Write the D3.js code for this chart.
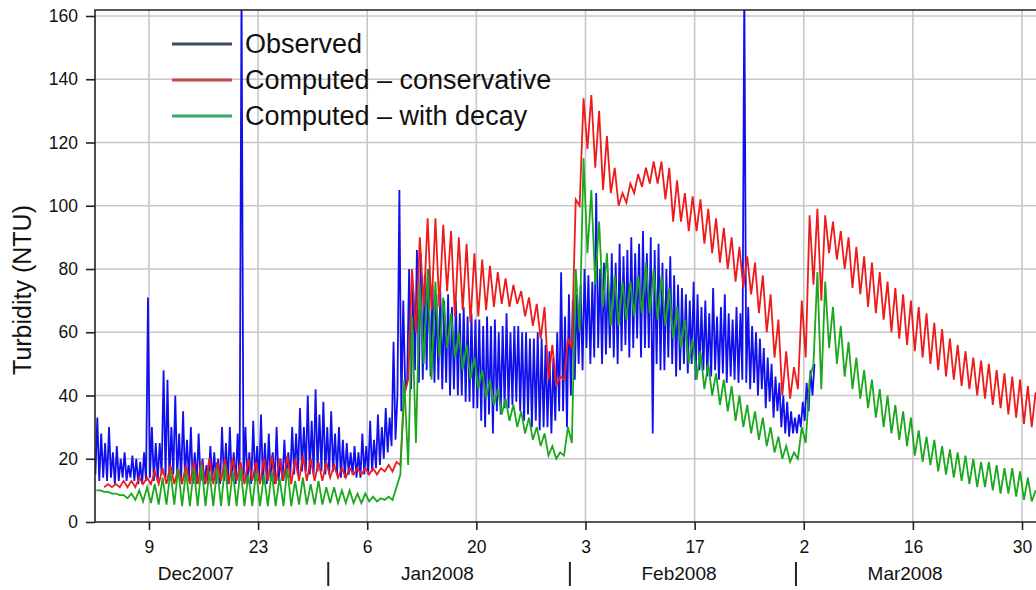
<!DOCTYPE html>
<meta charset="utf-8">
<style>
body { margin: 0; background: #fff; }
text { font-family: "Liberation Sans", Arial, sans-serif; fill: #111; }
</style>
<body>
<script src="https://cdn.jsdelivr.net/npm/d3@7"></script>
<script>
// turbidity series
// observed: one value every 6 hours from 2 Dec 2007
var observed = [
  15,33,13,28, 14,25,13,30, 14,22,12,24, 13,20,14,22, 13,18,14,21,
  13,20,12,19, 12,22,13,71, 14,30,13,25, 13,25,15,48, 14,45,13,30,
  15,40,14,28, 13,35,14,26, 13,30,12,22, 12,28,13,20, 12,18,12,24,
  13,22,12,20, 12,30,13,25, 12,30,13,22, 12,28,13,170, 13,30,12,22,
  12,32,13,24, 13,34,12,25, 12,28,13,22, 12,30,13,20, 13,26,14,22,
  14,30,15,28, 15,36,16,30, 16,40,15,32, 15,42,16,34, 16,38,15,30,
  15,35,16,28, 15,30,14,26, 14,25,15,22, 15,24,14,22, 14,28,15,24,
  15,32,16,26, 17,34,18,30, 20,36,22,33, 24,57,26,40, 105,35,70,42,
  45,80,42,75, 48,86,44,85, 45,78,48,80, 46,75,44,72, 45,73,42,70,
  44,72,40,68, 42,70,40,66, 40,68,38,65, 38,66,36,64, 36,64,32,62,
  30,65,34,62, 28,64,35,60, 34,62,36,66, 36,60,37,62, 38,62,35,60,
  32,60,34,58, 30,58,32,60, 29,58,30,56, 30,54,28,52, 32,60,35,79,
  35,65,30,72, 40,70,45,72, 50,75,48,80, 55,78,50,76, 52,104,55,80,
  50,82,53,78, 55,85,52,82, 50,88,54,84, 56,86,52,90, 55,85,58,88,
  52,92,55,85, 55,90,28,86, 50,88,48,82, 48,80,52,84, 50,78,46,75,
  48,74,50,72, 47,70,50,76, 45,72,48,68, 48,70,46,66, 46,74,48,65,
  45,68,47,72, 44,66,46,64, 45,68,44,66, 45,170,44,68, 42,62,44,60,
  40,58,42,55, 36,52,38,50, 33,46,35,44, 30,40,28,38, 27,35,28,33,
  28,34,30,38, 32,44,35,48, 40,50
];
// computed, conservative: one value every 12 hours from 3 Dec 2007
var conservative = [
  11,12, 11,12, 11,13, 11,13, 11,14, 12,14, 12,16, 12,17, 12,18, 12,17,
  12,18, 12,19, 12,19, 12,20, 12,19, 13,20, 12,20, 13,19, 12,20, 13,19,
  12,20, 13,21, 12,20, 13,21, 12,20, 13,21, 13,20, 13,19, 13,19, 14,18,
  14,17, 14,17, 15,17, 15,17, 15,17, 15,17, 16,18, 16,19, 18,40, 45,80,
  60,90, 68,96, 67,96, 68,94, 73,92, 65,90, 67,88, 63,85, 65,83, 67,81,
  68,79, 69,77, 68,75, 69,73, 65,71, 62,69, 58,68, 45,56, 43,46, 45,58,
  55,102, 100,134, 118,135, 112,130, 105,122, 104,112, 100,104, 101,107, 104,110, 106,112,
  107,114, 107,114, 102,112, 95,108, 95,104, 92,103, 92,102, 88,99, 85,96, 82,93,
  80,90, 76,87, 74,84, 72,82, 66,78, 60,72, 52,64, 40,54, 39,49, 42,70,
  52,97, 75,99, 70,97, 85,95, 83,92, 80,90, 74,87, 72,84, 68,82, 66,79,
  64,76, 60,74, 58,72, 56,70, 54,68, 52,66, 50,63, 48,61, 46,58, 45,56,
  43,54, 42,52, 40,51, 39,50, 37,48, 36,47, 34,46, 33,45, 31,43, 30,41
];
// computed, with decay: one value every 12 hours from 2 Dec 2007
var withDecay = [
  10,10, 9.5,9.5, 9,9, 8.5,8.5, 7.5,9, 7,10, 6.5,11, 6,12, 5.5,14, 5.5,16,
  5.5,17, 5,16, 5,17, 5,18, 5,16, 5,17, 5,18, 5,16, 5,17, 5,15,
  5,16, 5,15, 5,16, 5,14, 5,17, 5,13, 5.5,14, 5.5,12, 5.5,13, 5.5,11,
  6,11, 6,10, 6,10, 6,9, 6,9, 6.5,8, 6.5,7.5, 7,8, 7,11, 15,45,
  18,65, 25,75, 50,80, 45,76, 52,71, 55,66, 52,60, 48,56, 45,52, 42,48,
  39,45, 37,42, 34,39, 32,37, 30,35, 28,33, 26,30, 24,28, 21,24, 20,22,
  21,30, 25,80, 60,115, 85,105, 75,95, 68,85, 62,78, 62,76, 64,76, 65,78,
  66,82, 66,80, 64,78, 62,74, 58,68, 55,64, 50,58, 45,54, 42,50, 40,47,
  37,45, 35,43, 32,40, 30,37, 28,35, 26,33, 24,30, 22,27, 20,24, 19,22,
  20,30, 25,45, 50,79, 42,76, 55,68, 50,62, 46,57, 42,52, 39,48, 36,45,
  33,42, 30,40, 28,37, 26,35, 24,33, 21,29, 19,27, 18,26, 16,24, 15,23,
  14,22, 13,21, 12,20, 11,19, 11,19, 10,18, 9,17, 9,17, 8,16, 7,14,
  6.5,10
];

var yTicks = [0, 20, 40, 60, 80, 100, 120, 140, 160];
var dayTicks = ["2007-12-09", "2007-12-23", "2008-01-06", "2008-01-20", "2008-02-03",
                "2008-02-17", "2008-03-02", "2008-03-16", "2008-03-30"];
var monthStarts = ["2008-01-01", "2008-02-01", "2008-03-01"];
var monthLabels = [["2007-12-15", "Dec2007"], ["2008-01-15", "Jan2008"],
                   ["2008-02-15", "Feb2008"], ["2008-03-15", "Mar2008"]];
var seriesNames = ["Observed", "Computed \u2013 conservative", "Computed \u2013 with decay"];

var width = 1036, height = 590;
var plotLeft = 95, plotTop = 10, plotBottom = 522;

var parse = d3.utcParse("%Y-%m-%d");
var obsStart = parse("2007-12-02"),
    consStart = parse("2007-12-03"),
    decayStart = parse("2007-12-02");

var x = d3.scaleUtc()
    .domain([parse("2007-12-02"), parse("2008-04-01")])
    .range([94.4, 1037.6]);

var y = d3.scaleLinear()
    .domain([0, 160])
    .range([522, 16]);

var svg = d3.select("body").append("svg")
    .attr("width", width)
    .attr("height", height);

svg.append("defs").append("clipPath").attr("id", "plot")
  .append("rect")
    .attr("x", plotLeft).attr("y", plotTop)
    .attr("width", width - plotLeft).attr("height", plotBottom - plotTop);

// grid
svg.append("g").selectAll("line")
    .data(yTicks.slice(1))
  .enter().append("line")
    .attr("x1", plotLeft).attr("x2", width)
    .attr("y1", function(d) { return y(d); })
    .attr("y2", function(d) { return y(d); })
    .attr("stroke", "#c8c8c8").attr("stroke-width", 1.6);

svg.append("g").selectAll("line")
    .data(dayTicks)
  .enter().append("line")
    .attr("x1", function(d) { return x(parse(d)); })
    .attr("x2", function(d) { return x(parse(d)); })
    .attr("y1", plotTop).attr("y2", plotBottom)
    .attr("stroke", "#c8c8c8").attr("stroke-width", 1.6);

// series
function points(values, start, stepHours) {
  return values.map(function(v, i) {
    return [d3.utcHour.offset(start, stepHours * i + stepHours / 2), v];
  });
}

var line = d3.line()
    .x(function(d) { return x(d[0]); })
    .y(function(d) { return y(d[1]); });

var plot = svg.append("g").attr("clip-path", "url(#plot)");

plot.append("path")
    .datum(points(observed, obsStart, 6))
    .attr("d", line)
    .attr("fill", "none").attr("stroke", "#1010ee").attr("stroke-width", 1.8);

plot.append("path")
    .datum(points(conservative, consStart, 12))
    .attr("d", line)
    .attr("fill", "none").attr("stroke", "#ee1b1b").attr("stroke-width", 1.8);

plot.append("path")
    .datum(points(withDecay, decayStart, 12))
    .attr("d", line)
    .attr("fill", "none").attr("stroke", "#1ca81c").attr("stroke-width", 1.8);

// frame
svg.append("path")
    .attr("d", "M" + width + "," + plotTop + "H" + plotLeft + "V" + plotBottom + "H" + width)
    .attr("fill", "none").attr("stroke", "#222").attr("stroke-width", 1.6);

// axes
var yAxis = svg.append("g")
    .attr("transform", "translate(" + plotLeft + ",0)")
    .call(d3.axisLeft(y).tickValues(yTicks).tickSize(9).tickSizeOuter(0).tickPadding(8));
yAxis.select(".domain").remove();
yAxis.selectAll(".tick line").attr("stroke", "#222").attr("stroke-width", 1.6);
yAxis.selectAll("text").style("font-size", "17.5px").attr("fill", "#111");

var xAxis = svg.append("g")
    .attr("transform", "translate(0," + plotBottom + ")")
    .call(d3.axisBottom(x).tickValues(dayTicks.map(parse)).tickFormat(d3.utcFormat("%-d"))
      .tickSize(8).tickSizeOuter(0).tickPadding(11));
xAxis.select(".domain").remove();
xAxis.selectAll(".tick line").attr("stroke", "#222").attr("stroke-width", 1.6);
xAxis.selectAll("text").style("font-size", "17.5px").attr("fill", "#111");

svg.append("g").selectAll("line")
    .data(monthStarts)
  .enter().append("line")
    .attr("x1", function(d) { return x(parse(d)); })
    .attr("x2", function(d) { return x(parse(d)); })
    .attr("y1", 562).attr("y2", 586)
    .attr("stroke", "#222").attr("stroke-width", 2);

svg.append("g").selectAll("text")
    .data(monthLabels)
  .enter().append("text")
    .attr("x", function(d) { return x(parse(d[0])); })
    .attr("y", 580)
    .attr("text-anchor", "middle")
    .style("font-size", "19px")
    .text(function(d) { return d[1]; });

svg.append("text")
    .attr("transform", "translate(31,290) rotate(-90)")
    .attr("text-anchor", "middle")
    .style("font-size", "25px")
    .text("Turbidity (NTU)");

// legend
var legendColors = ["#3c4c64", "#c84648", "#3aa866"];
var legend = svg.append("g").selectAll("g")
    .data(seriesNames)
  .enter().append("g")
    .attr("transform", function(d, i) { return "translate(172," + (44 + i * 36) + ")"; });
legend.append("line")
    .attr("x1", 0).attr("x2", 60)
    .attr("stroke", function(d, i) { return legendColors[i]; })
    .attr("stroke-width", 3);
legend.append("text")
    .attr("x", 73).attr("y", 9)
    .style("font-size", "27px")
    .text(function(d) { return d; });
</script>
